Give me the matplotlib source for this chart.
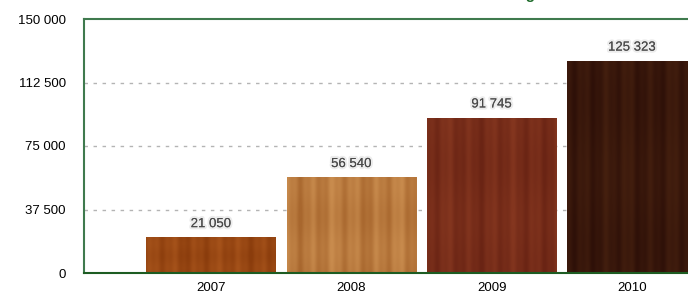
import matplotlib
matplotlib.use("Agg")
import matplotlib.pyplot as plt
import matplotlib.patheffects as pe
import numpy as np

years = ["2007", "2008", "2009", "2010"]
values = [21050, 56540, 91745, 125323]
y_ticks = [0, 37500, 75000, 112500, 150000]
# wood tones per bar (base, dark streak)
wood_base = ["#a5521a", "#c98c4e", "#84361f", "#45200f"]
wood_dark = ["#8a3c0c", "#a8672e", "#6a2414", "#2e1008"]

plt.rcParams['font.family'] = ['Liberation Sans', 'DejaVu Sans']

fig = plt.figure(figsize=(6.88, 2.95), dpi=100)
ax = fig.add_axes([84 / 688, 22 / 295, (720 - 84) / 688, 254 / 295])

x = np.arange(len(years))
bars = ax.bar(x, values, width=0.92, color=wood_base, zorder=2)

# fake wood grain: vertical streaks made of a few sines, clipped to each bar
for i, b in enumerate(bars):
    cols = np.linspace(0, 1, 120)
    grain = (0.5 + 0.25 * np.sin(cols * 37 + i) + 0.15 * np.sin(cols * 91 + 2 * i)
             + 0.1 * np.sin(cols * 13 + 3 * i))
    rows = np.linspace(0, 1, 60)[:, None]
    tex = np.clip(grain[None, :] + 0.08 * np.sin(rows * 9 + i), 0, 1)
    c0 = np.array(matplotlib.colors.to_rgb(wood_dark[i]))
    c1 = np.array(matplotlib.colors.to_rgb(wood_base[i]))
    img = c0 + (c1 - c0) * tex[..., None]
    im = ax.imshow(img, extent=[b.get_x(), b.get_x() + b.get_width(), 0, b.get_height()],
                   aspect='auto', zorder=2.5, interpolation='bilinear')
    im.set_clip_path(b)

for xi, v in zip(x, values):
    ax.annotate(f"{v:,}".replace(",", " "), (xi, v), xytext=(0, 9.5), textcoords='offset points',
                ha='center', va='center', fontsize=9.5, color='#4a4a4a', zorder=4,
                path_effects=[pe.withStroke(linewidth=3, foreground='#ececec'), pe.Normal()])

ax.set_xlim(-0.905, 3.627)
ax.set_ylim(0, 150000)
ax.set_xticks(x)
ax.set_xticklabels(years)
ax.set_yticks(y_ticks)
ax.set_yticklabels([f"{t:,}".replace(",", " ") for t in y_ticks])
ax.tick_params(axis='y', length=0, pad=13, labelsize=9.5)
ax.tick_params(axis='x', length=0, pad=6.5, labelsize=9.5)

for t in y_ticks[1:-1]:
    ax.axhline(t, color='#b4b4b4', lw=1, ls=(0, (2.5, 4)), zorder=1)

ax.spines['left'].set_color('#3f7a4e')
ax.spines['top'].set_color('#3f7a4e')
ax.spines['bottom'].set_color('#1d5c22')
ax.spines['right'].set_visible(False)
for s in ['left', 'top', 'bottom']:
    ax.spines[s].set_linewidth(1.5)

# title sits above the visible area, only the "g" descender shows
fig.text(535 / 688, 1 + 1.5 / 295, "Growing", ha='right', va='baseline',
         fontsize=11, fontweight='bold', color='#1d6b2a')

fig.savefig("out.png", dpi=100)
